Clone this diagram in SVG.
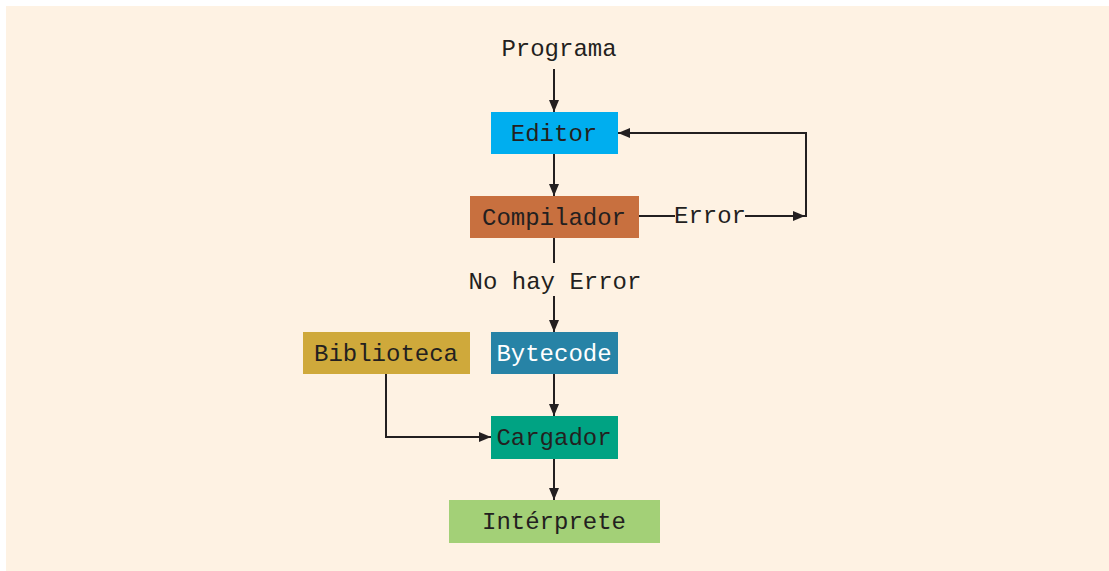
<svg xmlns="http://www.w3.org/2000/svg" width="1109" height="571" viewBox="0 0 1109 571">
  <style>
    .lbl { font-family: "Liberation Mono", "Courier New", monospace; font-size: 24px; fill: #231F20; text-anchor: middle; }
    .light { fill: #FFFFFF; }
    .wire { fill: none; stroke: #231F20; stroke-width: 2; }
  </style>
  <defs>
    <marker id="arrow" viewBox="0 0 12 10" refX="12" refY="5" markerWidth="12" markerHeight="10" markerUnits="userSpaceOnUse" orient="auto">
      <path d="M0,0 L12,5 L0,10 Z" fill="#231F20"/>
    </marker>
  </defs>

  <rect x="0" y="0" width="1109" height="571" fill="#FFFFFF"/>
  <rect x="6" y="6" width="1103" height="565" fill="#FEF2E3"/>

  <g id="connectors">
    <line class="wire" x1="554" y1="69" x2="554" y2="112" marker-end="url(#arrow)"/>
    <line class="wire" x1="554" y1="154" x2="554" y2="196" marker-end="url(#arrow)"/>
    <line class="wire" x1="554" y1="238" x2="554" y2="263"/>
    <line class="wire" x1="554" y1="296" x2="554" y2="332" marker-end="url(#arrow)"/>
    <line class="wire" x1="639" y1="216" x2="675" y2="216"/>
    <line class="wire" x1="745" y1="216" x2="805" y2="216" marker-end="url(#arrow)"/>
    <polyline class="wire" points="806,217 806,133 618,133" marker-end="url(#arrow)"/>
    <polyline class="wire" points="386,374 386,437 491,437" marker-end="url(#arrow)"/>
    <line class="wire" x1="554" y1="374" x2="554" y2="416" marker-end="url(#arrow)"/>
    <line class="wire" x1="554" y1="459" x2="554" y2="500" marker-end="url(#arrow)"/>
    <text class="lbl" x="710" y="223">Error</text>
    <text class="lbl" x="555" y="289">No hay Error</text>
  </g>

  <g id="programa">
    <text class="lbl" x="559" y="56">Programa</text>
  </g>
  <g id="editor">
    <rect x="491" y="112" width="127" height="42" fill="#00AEEF"/>
    <text class="lbl" x="554" y="141">Editor</text>
  </g>
  <g id="compilador">
    <rect x="470" y="196" width="169" height="42" fill="#C8703F"/>
    <text class="lbl" x="554" y="225">Compilador</text>
  </g>
  <g id="biblioteca">
    <rect x="303" y="332" width="167" height="42" fill="#CFA93B"/>
    <text class="lbl" x="386" y="361">Biblioteca</text>
  </g>
  <g id="bytecode">
    <rect x="491" y="332" width="127" height="42" fill="#2783A6"/>
    <text class="lbl light" x="554" y="361">Bytecode</text>
  </g>
  <g id="cargador">
    <rect x="491" y="416" width="127" height="43" fill="#00A383"/>
    <text class="lbl" x="554" y="445">Cargador</text>
  </g>
  <g id="interprete">
    <rect x="449" y="500" width="211" height="43" fill="#A3D077"/>
    <text class="lbl" x="554" y="529">Intérprete</text>
  </g>
</svg>
